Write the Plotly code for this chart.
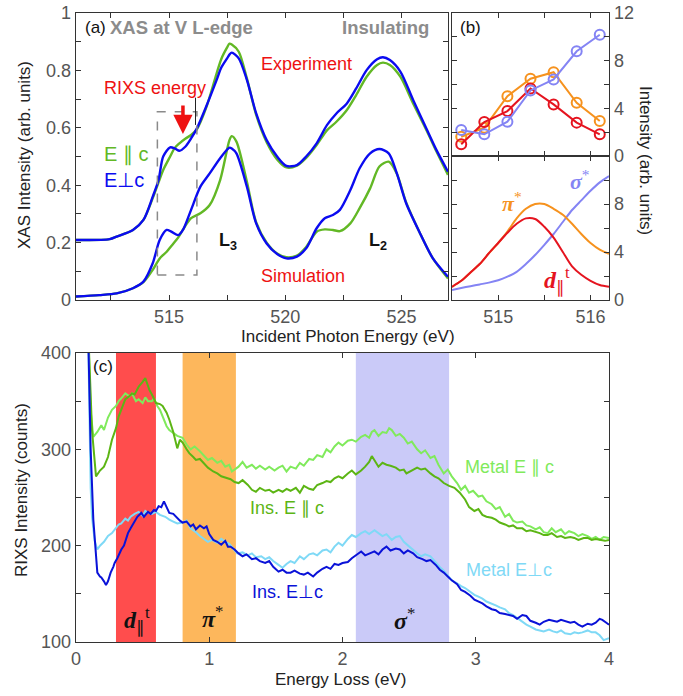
import plotly.graph_objects as go

# ---------------- Panel (a): XAS ----------------
exp_energy = [511.0, 512.45, 512.75, 513.45, 513.9, 514.3, 514.55, 514.75, 515.05, 515.25, 515.45, 515.7,
              515.95, 516.2, 516.6, 517.05, 517.25, 517.5, 517.6, 517.7, 518.0, 518.35, 518.75, 519.2,
              519.65, 520.05, 520.5, 520.9, 521.35, 521.8, 522.2, 522.65, 523.05, 523.5, 523.95, 524.2,
              524.5, 524.95, 525.5, 526.1, 526.5, 527.0]
exp_perp = [0.209, 0.212, 0.221, 0.244, 0.279, 0.36, 0.418, 0.5, 0.532, 0.528, 0.52, 0.534, 0.563, 0.598,
            0.674, 0.767, 0.81, 0.842, 0.855, 0.862, 0.842, 0.767, 0.65, 0.557, 0.5, 0.467, 0.47, 0.5,
            0.546, 0.61, 0.65, 0.685, 0.737, 0.801, 0.839, 0.846, 0.836, 0.796, 0.697, 0.592, 0.523, 0.447]
exp_par = [0.209, 0.212, 0.221, 0.244, 0.279, 0.355, 0.41, 0.453, 0.5, 0.53, 0.546, 0.562, 0.575, 0.595,
           0.67, 0.79, 0.84, 0.88, 0.893, 0.89, 0.865, 0.772, 0.645, 0.55, 0.49, 0.462, 0.468, 0.495,
           0.54, 0.592, 0.621, 0.662, 0.714, 0.778, 0.819, 0.827, 0.819, 0.778, 0.685, 0.587, 0.518, 0.436]

sim_energy = [511.0, 512.0, 512.75, 513.45, 513.9, 514.3, 514.6, 514.9, 515.1, 515.4, 515.6, 515.95, 516.35,
              516.75, 517.2, 517.6, 517.7, 517.9, 518.35, 518.75, 519.2, 519.65, 520.05, 520.5, 520.9,
              521.35, 521.7, 522.05, 522.35, 522.8, 523.2, 523.65, 524.05, 524.45, 524.8, 525.2, 525.8,
              526.35, 527.0]
sim_perp = [0.012, 0.017, 0.023, 0.041, 0.064, 0.128, 0.209, 0.244, 0.238, 0.226, 0.244, 0.314, 0.395,
            0.441, 0.494, 0.531, 0.528, 0.511, 0.395, 0.267, 0.197, 0.16, 0.145, 0.151, 0.18, 0.25, 0.285,
            0.296, 0.314, 0.383, 0.459, 0.511, 0.526, 0.511, 0.441, 0.337, 0.232, 0.145, 0.081]
sim_par = [0.012, 0.017, 0.023, 0.041, 0.062, 0.105, 0.145, 0.168, 0.188, 0.218, 0.245, 0.285, 0.302,
           0.331, 0.418, 0.557, 0.571, 0.552, 0.412, 0.27, 0.2, 0.162, 0.149, 0.155, 0.185, 0.238, 0.246,
           0.244, 0.24, 0.267, 0.32, 0.389, 0.465, 0.482, 0.44, 0.34, 0.232, 0.145, 0.075]

# ---------------- Panel (b) top: RIXS intensities vs incident energy ----------------
b_energy = [514.6, 514.85, 515.1, 515.35, 515.6, 515.85, 516.1]
b_d = [0.98, 2.85, 3.77, 5.67, 4.33, 2.8, 1.82]
b_pi = [1.62, 2.38, 5.02, 6.48, 7.03, 4.47, 2.93]
b_sigma = [2.18, 1.82, 2.88, 5.5, 6.42, 8.79, 10.18]

# ---------------- Panel (b) bottom: simulated ----------------
bs_energy = [514.5, 514.6, 514.7, 514.8, 514.9, 515.0, 515.1, 515.2, 515.3, 515.4, 515.5, 515.6, 515.7,
             515.8, 515.9, 516.0, 516.1, 516.2]
bs_d = [1.1, 1.6, 2.3, 3.0, 3.9, 4.75, 5.6, 6.35, 6.8, 6.75, 6.1, 5.2, 4.0, 2.8, 2.1, 1.6, 1.25, 1.1]
bs_pi = [1.1, 1.6, 2.3, 3.0, 3.9, 4.75, 5.7, 6.8, 7.6, 8.0, 8.0, 7.6, 7.1, 6.35, 5.5, 4.75, 4.2, 3.85]
bs_sigma = [0.84, 1.0, 1.15, 1.3, 1.45, 1.65, 1.95, 2.35, 3.0, 3.75, 4.6, 5.5, 6.5, 7.5, 8.3, 9.1, 9.8, 10.33]

# ---------------- Panel (c): RIXS spectra, (energy loss, counts) ----------------
metal_par = [(0.09, 430), (0.11, 340), (0.13, 313), (0.16, 318), (0.19, 325), (0.21, 320), (0.24, 333),
             (0.27, 341), (0.3, 345), (0.32, 350), (0.34, 353), (0.37, 358), (0.4, 355), (0.42, 358),
             (0.45, 350), (0.47, 352), (0.5, 348), (0.52, 354), (0.54, 350), (0.57, 350), (0.585, 353),
             (0.61, 345), (0.63, 341), (0.66, 330), (0.68, 324), (0.7, 320), (0.73, 317), (0.76, 314),
             (0.8, 312), (0.83, 305), (0.86, 300), (0.89, 303), (0.93, 298), (0.96, 294), (0.99, 289),
             (1.02, 291), (1.06, 286), (1.09, 288), (1.12, 282), (1.15, 284), (1.17, 277), (1.2, 280),
             (1.22, 282), (1.25, 287), (1.28, 281), (1.32, 284), (1.35, 280), (1.38, 283), (1.42, 279),
             (1.45, 282), (1.49, 278), (1.52, 281), (1.55, 283), (1.58, 277), (1.61, 282), (1.65, 280),
             (1.68, 286), (1.71, 283), (1.75, 290), (1.78, 289), (1.81, 294), (1.85, 292), (1.88, 300),
             (1.91, 297), (1.94, 303), (1.97, 307), (2.0, 304), (2.04, 309), (2.07, 310), (2.1, 308),
             (2.14, 313), (2.17, 315), (2.2, 312), (2.22, 318), (2.24, 320), (2.27, 314), (2.3, 318),
             (2.33, 317), (2.35, 322), (2.37, 320), (2.4, 314), (2.43, 316), (2.46, 312), (2.49, 306),
             (2.52, 308), (2.56, 300), (2.59, 296), (2.62, 299), (2.66, 291), (2.69, 293), (2.72, 284),
             (2.76, 275), (2.79, 279), (2.82, 272), (2.86, 265), (2.89, 258), (2.92, 262), (2.95, 255),
             (2.98, 257), (3.02, 251), (3.05, 252), (3.08, 246), (3.12, 243), (3.15, 238), (3.18, 240),
             (3.22, 230), (3.25, 233), (3.28, 226), (3.31, 224), (3.35, 225), (3.38, 221), (3.41, 220),
             (3.45, 217), (3.48, 219), (3.51, 214), (3.54, 213), (3.57, 218), (3.6, 214), (3.64, 217),
             (3.67, 212), (3.7, 215), (3.74, 213), (3.77, 210), (3.8, 212), (3.84, 210), (3.87, 207),
             (3.9, 209), (3.93, 206), (3.96, 209), (4.0, 208)]

ins_par = [(0.09, 430), (0.12, 320), (0.15, 272), (0.18, 278), (0.21, 282), (0.24, 292), (0.27, 310),
           (0.3, 322), (0.32, 334), (0.35, 346), (0.37, 352), (0.4, 355), (0.42, 358), (0.44, 357),
           (0.46, 362), (0.47, 365), (0.5, 370), (0.52, 374), (0.54, 366), (0.55, 362), (0.58, 354),
           (0.6, 348), (0.63, 347), (0.65, 345), (0.68, 338), (0.7, 331), (0.73, 318), (0.76, 301),
           (0.78, 310), (0.8, 307), (0.83, 300), (0.85, 296), (0.88, 292), (0.9, 289), (0.93, 290),
           (0.96, 286), (0.99, 281), (1.03, 277), (1.06, 275), (1.09, 272), (1.12, 271), (1.16, 269),
           (1.19, 266), (1.22, 265), (1.25, 268), (1.29, 263), (1.32, 258), (1.35, 256), (1.38, 260),
           (1.42, 257), (1.45, 258), (1.48, 255), (1.52, 258), (1.55, 256), (1.58, 259), (1.61, 257),
           (1.65, 260), (1.68, 255), (1.71, 262), (1.75, 259), (1.78, 258), (1.81, 263), (1.85, 265),
           (1.88, 267), (1.91, 266), (1.94, 270), (1.97, 272), (2.0, 270), (2.04, 275), (2.07, 278),
           (2.1, 274), (2.14, 278), (2.17, 282), (2.2, 287), (2.22, 293), (2.24, 288), (2.27, 282),
           (2.3, 286), (2.33, 284), (2.36, 283), (2.4, 281), (2.43, 278), (2.46, 279), (2.48, 275),
           (2.52, 278), (2.56, 281), (2.59, 279), (2.62, 280), (2.66, 275), (2.69, 272), (2.72, 270),
           (2.76, 265), (2.8, 262), (2.84, 260), (2.88, 255), (2.92, 248), (2.95, 240), (2.99, 236),
           (3.02, 238), (3.05, 232), (3.08, 230), (3.12, 229), (3.15, 227), (3.18, 224), (3.22, 222),
           (3.25, 220), (3.28, 221), (3.31, 218), (3.35, 218), (3.38, 215), (3.41, 216), (3.44, 215),
           (3.48, 213), (3.51, 211), (3.54, 211), (3.57, 213), (3.61, 209), (3.64, 210), (3.67, 208),
           (3.71, 209), (3.74, 208), (3.77, 206), (3.81, 208), (3.84, 208), (3.87, 206), (3.9, 207),
           (3.93, 206), (3.97, 205), (4.0, 206)]

ins_perp = [(0.09, 430), (0.11, 300), (0.13, 227), (0.15, 185), (0.16, 172), (0.18, 168), (0.19, 167),
            (0.21, 163), (0.225, 159), (0.24, 163), (0.26, 172), (0.28, 178), (0.29, 182), (0.31, 187),
            (0.34, 196), (0.36, 200), (0.39, 213), (0.41, 218), (0.44, 225), (0.46, 230), (0.49, 234),
            (0.51, 230), (0.54, 235), (0.56, 233), (0.585, 237), (0.6, 236), (0.62, 241), (0.64, 240),
            (0.66, 246), (0.68, 240), (0.7, 234), (0.73, 233), (0.75, 230), (0.78, 226), (0.8, 224),
            (0.83, 225), (0.86, 220), (0.88, 222), (0.9, 217), (0.93, 221), (0.96, 218), (0.98, 220),
            (1.0, 212), (1.03, 206), (1.06, 204), (1.09, 201), (1.12, 205), (1.14, 199), (1.16, 199),
            (1.19, 196), (1.22, 192), (1.25, 189), (1.28, 191), (1.32, 186), (1.35, 187), (1.38, 184),
            (1.42, 182), (1.45, 184), (1.48, 178), (1.52, 173), (1.55, 175), (1.58, 172), (1.61, 172),
            (1.64, 174), (1.68, 171), (1.71, 170), (1.74, 172), (1.78, 168), (1.81, 172), (1.85, 176),
            (1.88, 178), (1.91, 176), (1.94, 181), (1.97, 180), (2.0, 182), (2.04, 183), (2.07, 187),
            (2.1, 190), (2.14, 194), (2.17, 190), (2.2, 192), (2.24, 194), (2.27, 191), (2.3, 196),
            (2.33, 199), (2.36, 195), (2.4, 197), (2.43, 196), (2.46, 192), (2.49, 195), (2.53, 192),
            (2.56, 188), (2.6, 186), (2.63, 184), (2.66, 185), (2.7, 180), (2.73, 175), (2.76, 172),
            (2.79, 168), (2.82, 164), (2.86, 160), (2.89, 154), (2.92, 152), (2.96, 148), (2.99, 144),
            (3.02, 142), (3.05, 140), (3.08, 137), (3.12, 134), (3.15, 133), (3.18, 130), (3.22, 129),
            (3.25, 128), (3.28, 127), (3.31, 124), (3.35, 128), (3.38, 127), (3.41, 122), (3.45, 120),
            (3.48, 118), (3.51, 121), (3.55, 123), (3.58, 122), (3.61, 121), (3.64, 123), (3.67, 122),
            (3.71, 120), (3.74, 121), (3.77, 118), (3.8, 116), (3.84, 119), (3.87, 118), (3.9, 120),
            (3.93, 124), (3.95, 123), (3.98, 120), (4.0, 118)]

metal_perp = [(0.09, 430), (0.11, 260), (0.12, 230), (0.14, 205), (0.16, 196), (0.18, 200), (0.21, 204),
              (0.24, 210), (0.27, 213), (0.3, 218), (0.32, 222), (0.34, 223), (0.37, 228), (0.39, 226),
              (0.41, 230), (0.44, 233), (0.47, 235), (0.5, 231), (0.52, 236), (0.54, 234), (0.57, 233),
              (0.6, 235), (0.63, 232), (0.67, 230), (0.7, 227), (0.73, 225), (0.76, 223), (0.8, 224),
              (0.83, 226), (0.86, 218), (0.9, 214), (0.93, 210), (0.96, 207), (0.99, 204), (1.02, 206),
              (1.06, 203), (1.09, 207), (1.12, 204), (1.15, 202), (1.18, 197), (1.21, 192), (1.25, 193),
              (1.29, 190), (1.32, 192), (1.35, 188), (1.39, 189), (1.42, 186), (1.45, 188), (1.48, 184),
              (1.52, 180), (1.55, 177), (1.58, 181), (1.61, 184), (1.64, 182), (1.68, 189), (1.71, 186),
              (1.75, 191), (1.78, 192), (1.81, 190), (1.85, 195), (1.88, 196), (1.91, 193), (1.94, 199),
              (1.97, 203), (2.0, 200), (2.04, 207), (2.07, 211), (2.1, 209), (2.14, 213), (2.17, 215),
              (2.2, 212), (2.24, 216), (2.27, 213), (2.3, 210), (2.33, 212), (2.37, 206), (2.4, 209),
              (2.43, 210), (2.46, 204), (2.5, 199), (2.53, 196), (2.56, 192), (2.59, 189), (2.62, 191),
              (2.66, 189), (2.69, 184), (2.73, 178), (2.76, 174), (2.79, 169), (2.82, 164), (2.86, 161),
              (2.89, 158), (2.92, 156), (2.96, 152), (2.99, 149), (3.02, 147), (3.05, 145), (3.08, 142),
              (3.12, 140), (3.15, 138), (3.18, 136), (3.22, 134), (3.25, 130), (3.28, 128), (3.31, 125),
              (3.35, 121), (3.38, 118), (3.41, 116), (3.45, 113), (3.48, 112), (3.51, 111), (3.55, 113),
              (3.58, 111), (3.61, 110), (3.64, 112), (3.67, 109), (3.71, 108), (3.74, 110), (3.77, 109),
              (3.8, 110), (3.84, 112), (3.87, 110), (3.9, 110), (3.93, 107), (3.96, 102), (4.0, 104)]

bands = [(0.3, 0.6, "#ff4d4d"), (0.8, 1.2, "#fdb75c"), (2.1, 2.8, "#cacaf8")]

# ---------------- colours ----------------
GREEN_A = "#62b825"
BLUE_A = "#0b0bf0"
RED_B = "#e5141f"
ORANGE_B = "#f6921e"
PURPLE_B = "#8484f4"

W, H = 683, 696
FONT = "Liberation Sans"
SERIF = "Liberation Serif"


def px(x):
    return x / W


def py(y):
    return 1 - y / H


fig = go.Figure()

# panel a
for xs, ys, col in [(exp_energy, exp_par, GREEN_A), (exp_energy, exp_perp, BLUE_A),
                    (sim_energy, sim_par, GREEN_A), (sim_energy, sim_perp, BLUE_A)]:
    fig.add_trace(go.Scatter(x=xs, y=ys, mode="lines", line=dict(color=col, width=2.4, shape="spline", smoothing=0.8),
                             xaxis="x", yaxis="y", showlegend=False, hoverinfo="skip"))

# panel b top
for ys, col in [(b_pi, ORANGE_B), (b_d, RED_B), (b_sigma, PURPLE_B)]:
    fig.add_trace(go.Scatter(x=b_energy, y=ys, mode="lines+markers",
                             line=dict(color=col, width=2),
                             marker=dict(symbol="circle-open", size=10, color=col, line=dict(width=2, color=col)),
                             xaxis="x2", yaxis="y2", showlegend=False, hoverinfo="skip"))

# panel b bottom
for ys, col in [(bs_sigma, PURPLE_B), (bs_pi, ORANGE_B), (bs_d, RED_B)]:
    fig.add_trace(go.Scatter(x=bs_energy, y=ys, mode="lines",
                             line=dict(color=col, width=2, shape="spline", smoothing=0.8),
                             xaxis="x3", yaxis="y3", showlegend=False, hoverinfo="skip"))

# panel c
for pairs, col in [(metal_par, "#80ea5c"), (ins_par, "#5cb514"),
                   (metal_perp, "#7fd9f6"), (ins_perp, "#0a12d8")]:
    xs = [p[0] for p in pairs]
    ys = [p[1] for p in pairs]
    fig.add_trace(go.Scatter(x=xs, y=ys, mode="lines", line=dict(color=col, width=2),
                             xaxis="x4", yaxis="y4", showlegend=False, hoverinfo="skip"))

shapes = []
for x0, x1, col in bands:
    shapes.append(dict(type="rect", xref="x4", yref="y4", x0=x0, x1=x1, y0=100, y1=400,
                       fillcolor=col, line=dict(width=0), layer="below"))
# dashed box around RIXS energy range
shapes.append(dict(type="rect", xref="x", yref="y", x0=514.5, x1=516.2, y0=0.087, y1=0.656,
                   line=dict(color="#8a8a8a", width=1.5, dash="dash"), fillcolor="rgba(0,0,0,0)"))
shapes.append(dict(type="line", xref="x", yref="y", x0=516.14, x1=516.14, y0=0.61, y1=0.705,
                   line=dict(color="#222", width=1)))

axis_common = dict(showline=True, linecolor="#333", linewidth=1.3, mirror="ticks", ticks="inside",
                   ticklen=5, tickwidth=1, tickcolor="#333", showgrid=False, zeroline=False,
                   automargin=False, tickfont=dict(family=FONT, size=18, color="#555"))

a_xt = [512.5, 515, 517.5, 520, 522.5, 525]
a_xl = ["", "515", "", "520", "", "525"]
a_yt = [0, 0.1, 0.2, 0.3, 0.4, 0.5, 0.6, 0.7, 0.8, 0.9, 1.0]
a_yl = ["0", "", "0.2", "", "0.4", "", "0.6", "", "0.8", "", "1"]

layout = dict(
    template="none",
    width=W, height=H, autosize=False, margin=dict(l=0, r=0, t=0, b=0, pad=0),
    paper_bgcolor="white", plot_bgcolor="white",
    font=dict(family=FONT, color="#222"),
    xaxis=dict(axis_common, domain=[px(76), px(448)], range=[511, 527], tickvals=a_xt, ticktext=a_xl,
               anchor="y"),
    yaxis=dict(axis_common, domain=[py(300), py(13)], range=[0, 1], tickvals=a_yt, ticktext=a_yl,
               anchor="x"),
    xaxis2=dict(axis_common, domain=[px(452), px(609)], range=[514.5, 516.2], tickvals=[515, 515.5, 516],
                showticklabels=False, anchor="y2"),
    yaxis2=dict(axis_common, domain=[py(156), py(13)], range=[0, 12], side="right",
                tickvals=[0, 2, 4, 6, 8, 10, 12], ticktext=["0", "", "4", "", "8", "", "12"], anchor="x2"),
    xaxis3=dict(axis_common, domain=[px(452), px(609)], range=[514.5, 516.2], tickvals=[515, 515.5, 516],
                ticktext=["515", "", "516"], anchor="y3"),
    yaxis3=dict(axis_common, domain=[py(300), py(156)], range=[0, 12], side="right",
                tickvals=[0, 2, 4, 6, 8, 10], ticktext=["0", "", "4", "", "8", ""], anchor="x3"),
    xaxis4=dict(axis_common, domain=[px(76), px(609)], range=[0, 4], tickvals=[0, 1, 2, 3, 4],
                ticktext=["0", "1", "2", "3", "4"], anchor="y4"),
    yaxis4=dict(axis_common, domain=[py(642), py(353)], range=[100, 400],
                tickvals=[100, 150, 200, 250, 300, 350, 400],
                ticktext=["100", "", "200", "", "300", "", "400"], anchor="x4"),
    shapes=shapes,
)
fig.update_layout(**layout)


def ann(x, y, text, size=18, color="#222", family=FONT, angle=0, xanchor="center"):
    fig.add_annotation(x=px(x), y=py(y), xref="paper", yref="paper", text=text, showarrow=False,
                       font=dict(family=family, size=size, color=color), textangle=angle,
                       xanchor=xanchor, yanchor="middle")


# panel a texts
ann(83, 27, "(a)", 17, "#111", xanchor="left")
ann(108, 27, "<b>XAS at V L-edge</b>", 18.5, "#8c8c8c", xanchor="left")
ann(431, 27, "<b>Insulating</b>", 18.5, "#8c8c8c", xanchor="right")
ann(306, 64, "Experiment", 18, "#ee1111")
ann(155, 88, "RIXS energy", 18, "#ee1111")
ann(102, 155, "E ∥ c", 20, GREEN_A, xanchor="left")
ann(102, 180, "E⊥c", 20, BLUE_A, xanchor="left")
ann(228, 241, "<b>L<sub>3</sub></b>", 18, "#111")
ann(378, 241, "<b>L<sub>2</sub></b>", 18, "#111")
ann(303, 276, "Simulation", 18, "#ee1111")
fig.add_annotation(x=515.6, y=0.578, xref="x", yref="y", ax=0, ay=-30, text="", showarrow=True,
                   arrowhead=2, arrowsize=1.1, arrowwidth=3.5, arrowcolor="#ee1111")

# panel b texts
ann(458, 27, "(b)", 17, "#111", xanchor="left")
ann(512, 202, "<b><i>π</i></b><sup>*</sup>", 22, ORANGE_B, SERIF)
ann(580, 180, "<b><i>σ</i></b><sup>*</sup>", 22, PURPLE_B, SERIF)
ann(557, 280, "<b><i>d</i></b><sub>∥</sub><sup>t</sup>", 24, RED_B, SERIF)
ann(645, 160, "Intensity (arb. units)", 17, "#222", angle=90)

# panel c texts
ann(91, 367, "(c)", 17, "#111", xanchor="left")
ann(509, 467, "Metal E ∥ c", 18, "#80ea5c")
ann(287, 508, "Ins. E ∥ c", 18, "#5cb514")
ann(509, 570, "Metal E⊥c", 18, "#7fd9f6")
ann(287, 592, "Ins. E⊥c", 18, "#0a12d8")
ann(137, 620, "<b><i>d</i></b><sub>∥</sub><sup>t</sup>", 24, "#111", SERIF)
ann(213, 617, "<b><i>π</i></b><sup>*</sup>", 24, "#111", SERIF)
ann(404, 619, "<b><i>σ</i></b><sup>*</sup>", 24, "#111", SERIF)

# axis titles
ann(25, 155, "XAS Intensity (arb. units)", 17, "#222", angle=-90)
ann(348, 336, "Incident Photon Energy (eV)", 17, "#222")
ann(22, 490, "RIXS Intensity (counts)", 17, "#222", angle=-90)
ann(340, 679, "Energy Loss (eV)", 17, "#222")

# remove the browser's default page margin so the figure fills the window exactly
fig.write_html("out.html", config={"displayModeBar": False, "staticPlot": True},
               post_script="document.body.style.margin='0px';")
